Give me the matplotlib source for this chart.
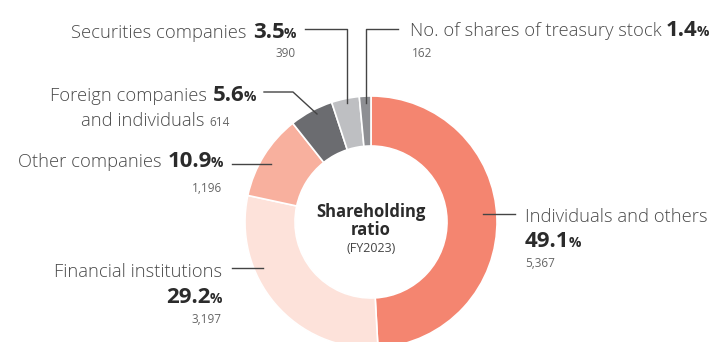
import matplotlib
matplotlib.use("Agg")
import matplotlib.pyplot as plt

plt.rcParams['font.family'] = ['Open Sans', 'DejaVu Sans']

# shareholder breakdown, FY2023 (clockwise from 12 o'clock)
categories = ["Individuals and others", "Financial institutions", "Other companies",
              "Foreign companies and individuals", "Securities companies",
              "No. of shares of treasury stock"]
shares_pct = ["49.1", "29.2", "10.9", "5.6", "3.5", "1.4"]
holders = [5367, 3197, 1196, 614, 390, 162]
holder_labels = ["5,367", "3,197", "1,196", "614", "390", "162"]
colours = ["#f48570", "#fde2da", "#f8b09e", "#6b6c70", "#bebfc2", "#8e8f93"]

W, H = 713, 342
fig = plt.figure(figsize=(W / 100, H / 100), dpi=100)
ax = fig.add_axes([0, 0, 1, 1])


def Y(py):
    return H - py


cx, cy, R = 371, 222, 126
ax.pie(holders, colors=colours, startangle=90, counterclock=False, radius=R,
       center=(cx, Y(cy)), wedgeprops=dict(width=50, edgecolor="white", linewidth=1.2))
ax.set_xlim(0, W)
ax.set_ylim(0, H)
ax.set_aspect("equal")
ax.axis("off")

fig.canvas.draw()
rend = fig.canvas.get_renderer()

LAB = dict(size=13.2, weight="light", color="#4a4a4a")
NUM = dict(size=16, weight="bold", color="#2b2b2b")
PCT = dict(size=10, weight="bold", color="#2b2b2b")
CNT = dict(size=8.5, color="#666666")


def row(x, py, parts, ha="left"):
    # parts: list of (text, style, gap after)
    seq = parts if ha == "left" else parts[::-1]
    cur = x
    for s, st, gap in seq:
        if ha == "right":
            cur -= gap
        t = ax.text(cur, Y(py), s, ha=ha, va="baseline", **st)
        w = t.get_window_extent(rend).width
        cur = cur + w + gap if ha == "left" else cur - w


def leader(pts):
    xs = [p[0] for p in pts]
    ys = [Y(p[1]) for p in pts]
    ax.plot(xs, ys, color="#444444", lw=1)


# securities companies
row(296, 38, [(categories[4], LAB, 6), (shares_pct[4], NUM, -1), ("%", PCT, 0)], "right")
row(296, 57, [(holder_labels[4], CNT, 0)], "right")
leader([(305, 29), (347, 29), (347, 103)])

# treasury stock
row(410, 36, [(categories[5], LAB, 4), (shares_pct[5], NUM, -1), ("%", PCT, 0)])
row(412, 57, [(holder_labels[5], CNT, 0)])
leader([(398, 29), (366, 29), (366, 103)])

# foreign companies and individuals (two lines)
row(256, 101, [("Foreign companies", LAB, 6), (shares_pct[3], NUM, -1), ("%", PCT, 0)], "right")
row(230, 126, [("and individuals", LAB, 5), (holder_labels[3], CNT, 0)], "right")
leader([(264, 92), (293, 92), (317, 114)])

# other companies
row(223, 167, [(categories[2], LAB, 6), (shares_pct[2], NUM, -1), ("%", PCT, 0)], "right")
row(222, 192, [(holder_labels[2], CNT, 0)], "right")
leader([(232, 164), (271, 164)])

# financial institutions
row(222, 277, [(categories[1], LAB, 0)], "right")
row(222, 303, [(shares_pct[1], NUM, -1), ("%", PCT, 0)], "right")
row(222, 323, [(holder_labels[1], CNT, 0)], "right")
leader([(232, 268), (263, 268)])

# individuals and others
row(525, 222, [(categories[0], LAB, 0)])
row(525, 247, [(shares_pct[0], NUM, -1), ("%", PCT, 0)])
row(525, 267, [(holder_labels[0], CNT, 0)])
leader([(483, 214), (515, 214)])

# centre caption
ax.text(cx, Y(217), "Shareholding", ha="center", va="baseline", size=12, weight="bold", color="#2b2b2b")
ax.text(cx, Y(235), "ratio", ha="center", va="baseline", size=12, weight="bold", color="#2b2b2b")
ax.text(cx, Y(252), "(FY2023)", ha="center", va="baseline", size=9, color="#444444")

fig.savefig("out.png", dpi=100)
